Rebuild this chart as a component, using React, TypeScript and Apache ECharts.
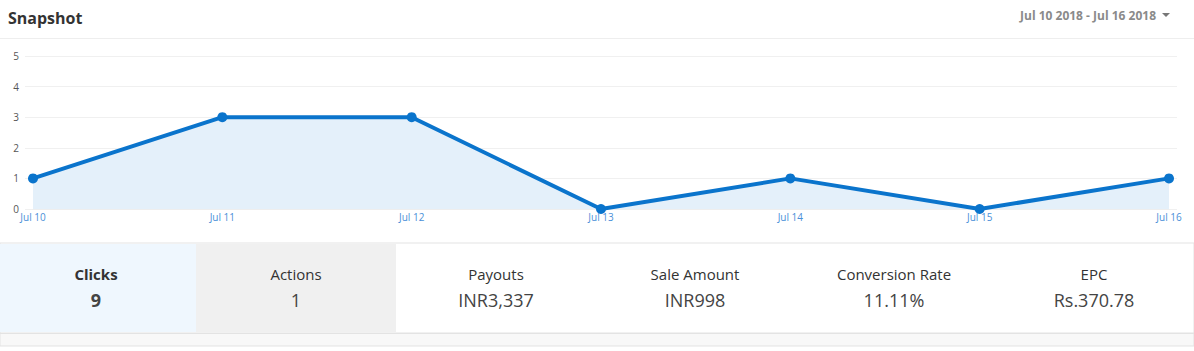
import React, { useEffect, useRef } from "react";
import * as echarts from "echarts";

const categories = ["Jul 10", "Jul 11", "Jul 12", "Jul 13", "Jul 14", "Jul 15", "Jul 16"];
const clicks = [1, 3, 3, 0, 1, 0, 1];
const yTicks = [0, 1, 2, 3, 4, 5];
const statLabels = ["Clicks", "Actions", "Payouts", "Sale Amount", "Conversion Rate", "EPC"];
const statValues = ["9", "1", "INR3,337", "INR998", "11.11%", "Rs.370.78"];
const title = "Snapshot";
const dateRange = "Jul 10 2018 - Jul 16 2018";

const FONT = "'Open Sans', sans-serif";

export default function App() {
  const ref = useRef<HTMLDivElement>(null);
  useEffect(() => {
    document.body.style.margin = "0";
    const chart = echarts.init(ref.current!, null, { renderer: "svg" });
    const W = 1194;
    const centers = [96, 296, 496, 695, 894, 1094];
    const graphics: any[] = [
      { type: "text", x: 8, y: 18, style: { text: title, font: `bold 16px ${FONT}`, fill: "#333", verticalAlign: "middle" } },
      { type: "text", x: 1156, y: 15, style: { text: dateRange, font: `bold 12px ${FONT}`, fill: "#8a8a8a", align: "right", verticalAlign: "middle" } },
      { type: "polygon", shape: { points: [[1162, 13], [1170, 13], [1166, 17]] }, style: { fill: "#777" } },
      { type: "line", shape: { x1: 0, y1: 38.5, x2: W, y2: 38.5 }, style: { stroke: "#eeeeee", lineWidth: 1 } },
      { type: "rect", shape: { x: 0, y: 243, width: W, height: 90 }, style: { fill: "#ffffff", stroke: "#e3e3e3", lineWidth: 1 }, z: -1 },
      { type: "rect", shape: { x: 0, y: 244, width: 196, height: 88 }, style: { fill: "#eff7fe" } },
      { type: "rect", shape: { x: 196, y: 244, width: 200, height: 88 }, style: { fill: "#f0f0f0" } },
      { type: "rect", shape: { x: 0, y: 333.5, width: W, height: 12.5 }, style: { fill: "#f8f8f8", stroke: "#e3e3e3", lineWidth: 1 } },
    ];
    statLabels.forEach((lab, i) => {
      graphics.push({ type: "text", x: centers[i], y: 274, style: { text: lab, font: `${i === 0 ? "bold " : ""}15px ${FONT}`, fill: "#333", align: "center", verticalAlign: "middle" } });
      graphics.push({ type: "text", x: centers[i], y: 300, style: { text: statValues[i], font: `${i === 0 ? "bold " : ""}18px ${FONT}`, fill: "#444", align: "center", verticalAlign: "middle" } });
    });
    chart.setOption({
      animation: false,
      textStyle: { fontFamily: FONT },
      grid: [
        { left: 33, right: 25, top: 56, bottom: 142 },
        { left: 25, right: 17, top: 56, bottom: 142 },
      ],
      xAxis: [
        {
          type: "category", data: categories, boundaryGap: false, gridIndex: 0,
          axisLine: { lineStyle: { color: "#eeeeee" } }, axisTick: { show: false },
          axisLabel: { color: "#4a8fd8", fontSize: 10, margin: 3, interval: 0 },
        },
        { type: "category", data: categories, gridIndex: 1, show: false },
      ],
      yAxis: [
        { type: "value", min: 0, max: 5, interval: 1, gridIndex: 0, show: false, splitLine: { show: false } },
        {
          type: "value", min: yTicks[0], max: yTicks[yTicks.length - 1], interval: 1, gridIndex: 1,
          axisLine: { show: false }, axisTick: { show: false },
          axisLabel: { color: "#555", fontSize: 10, margin: 6 },
          splitLine: { lineStyle: { color: "#f0f0f0" } },
        },
      ],
      series: [
        {
          type: "line", data: clicks, xAxisIndex: 0, yAxisIndex: 0,
          symbol: "circle", symbolSize: 10,
          lineStyle: { color: "#0a74cc", width: 4 },
          itemStyle: { color: "#0a74cc" },
          areaStyle: { color: "#e4f0fa", opacity: 1 },
          z: 3,
        },
      ],
      graphic: graphics,
    });
    return () => chart.dispose();
  }, []);
  return <div ref={ref} style={{ position: "absolute", left: 0, top: 0, width: 1194, height: 351 }} />;
}
